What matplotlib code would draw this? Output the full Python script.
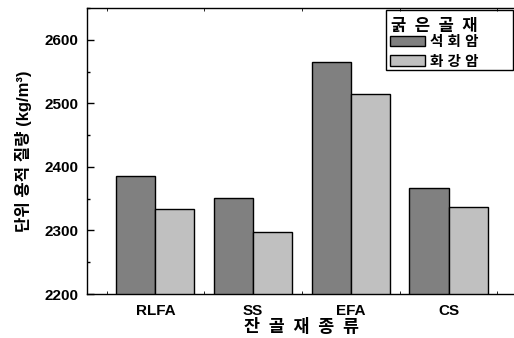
import matplotlib
matplotlib.use("Agg")
import matplotlib.pyplot as plt
import numpy as np
from matplotlib.ticker import MultipleLocator
from matplotlib.patches import Rectangle

plt.rcParams['font.family'] = ['Liberation Sans', 'Noto Sans CJK KR']
plt.rcParams['font.weight'] = 'bold'

categories = ["RLFA", "SS", "EFA", "CS"]
limestone = [2386, 2351, 2565, 2366]   # 석회암
granite = [2334, 2297, 2514, 2337]     # 화강암
series_names = ["석 회 암", "화 강 암"]
legend_title = "굵\u2002은\u2002골\u2002재"
xlabel = "잔\u2002골\u2002재\u2002종\u2002류"
ylabel = "단위 용적 질량 (kg/m³)"

W, H = 514, 338
fig = plt.figure(figsize=(W / 100, H / 100), dpi=100)
ax = fig.add_axes([87/W, 44/H, 1 - 87/W + 0.002, 286/H])

x = np.arange(len(categories))
w = 0.4
ax.bar(x - w/2, limestone, w, color="#808080", edgecolor="black", linewidth=1.0,
       label=series_names[0], zorder=2)
ax.bar(x + w/2, granite, w, color="#c0c0c0", edgecolor="black", linewidth=1.0,
       label=series_names[1], zorder=2)

ax.set_xlim(-0.7, 3.68)
ax.set_ylim(2200, 2650)
ax.set_xticks(x)
ax.set_xticklabels(categories)
ax.xaxis.set_minor_locator(MultipleLocator(0.5))
ax.yaxis.set_major_locator(MultipleLocator(100))
ax.yaxis.set_minor_locator(MultipleLocator(50))
ax.tick_params(axis='y', which='both', direction='in', labelsize=11, pad=6)
ax.tick_params(axis='y', which='major', length=5, width=1)
ax.tick_params(axis='y', which='minor', length=2.5, width=1)
ax.tick_params(axis='x', which='both', direction='in', top=True, length=2, width=0.6,
               pad=7, labelsize=11)
ax.tick_params(axis='x', which='major', length=0, top=False)
for lab in ax.get_yticklabels() + ax.get_xticklabels():
    lab.set_fontweight('bold')
for s in ax.spines.values():
    s.set_linewidth(1.0)

ax.set_xlabel(xlabel, fontsize=12.5, fontweight='bold', va='center')
ax.xaxis.set_label_coords(0.5, (294 - 327) / 286)
ax.set_ylabel(ylabel, fontsize=12, fontweight='bold', labelpad=9)

# legend entries, with the titled box drawn around them
leg = ax.legend(loc='upper left', bbox_to_anchor=(390/W, 1 - 35/H),
                bbox_transform=fig.transFigure, borderaxespad=0, frameon=False,
                prop={'size': 10.5, 'weight': 'bold'},
                handlelength=2.4, handleheight=0.75, handletextpad=0.35,
                labelspacing=0.38, borderpad=0)
fig.text(391/W, 1 - 26/H, legend_title, fontsize=12, fontweight='bold',
         ha='left', va='center')
fig.add_artist(Rectangle((386/W, 1 - 70/H), 127/W, 60/H, transform=fig.transFigure,
                         fill=False, edgecolor='black', linewidth=1.0))

fig.savefig("out.png", dpi=100)
